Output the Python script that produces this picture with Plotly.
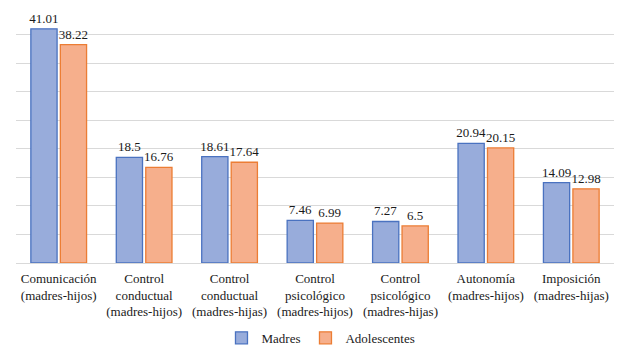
import plotly.graph_objects as go

categories = [
    "Comunicación<br>(madres-hijos)",
    "Control<br>conductual<br>(madres-hijos)",
    "Control<br>conductual<br>(madres-hijas)",
    "Control<br>psicológico<br>(madres-hijos)",
    "Control<br>psicológico<br>(madres-hijas)",
    "Autonomía<br>(madres-hijos)",
    "Imposición<br>(madres-hijas)",
]
madres = [41.01, 18.5, 18.61, 7.46, 7.27, 20.94, 14.09]
adolescentes = [38.22, 16.76, 17.64, 6.99, 6.5, 20.15, 12.98]
madres_labels = ["41.01", "18.5", "18.61", "7.46", "7.27", "20.94", "14.09"]
adol_labels = ["38.22", "16.76", "17.64", "6.99", "6.5", "20.15", "12.98"]

font_family = "Liberation Serif, Times New Roman, serif"
text_color = "#1a1a1a"
fs = 13

fig = go.Figure()
fig.add_trace(go.Bar(
    name="Madres", x=categories, y=madres, text=madres_labels,
    textposition="outside", cliponaxis=False, constraintext="none",
    textfont=dict(family=font_family, size=fs, color=text_color),
    marker=dict(color="#98ACDB", line=dict(color="#4A72C0", width=1.3)),
))
fig.add_trace(go.Bar(
    name="Adolescentes", x=categories, y=adolescentes, text=adol_labels,
    textposition="outside", cliponaxis=False, constraintext="none",
    textfont=dict(family=font_family, size=fs, color=text_color),
    marker=dict(color="#F6AF8C", line=dict(color="#EC7D34", width=1.3)),
))

fig.update_layout(
    template="none",
    width=640, height=352,
    margin=dict(l=16, r=26, t=6, b=89),
    paper_bgcolor="white", plot_bgcolor="white",
    barmode="group", bargap=0.31, bargroupgap=0.11,
    font=dict(family=font_family, size=fs, color=text_color),
    showlegend=True,
    legend=dict(orientation="h", x=0.51, xanchor="center",
                yref="container", y=0.04, yanchor="middle",
                font=dict(family=font_family, size=fs, color=text_color),
                itemwidth=30, tracegroupgap=0),
    xaxis=dict(showline=True, linecolor="#D9D9D9", linewidth=1, ticks="",
               automargin=False, showgrid=False, zeroline=False,
               ticklabelstandoff=3,
               tickfont=dict(family=font_family, size=fs, color=text_color)),
    yaxis=dict(range=[0, 45], dtick=5, showticklabels=False, showgrid=True, ticks="",
               automargin=False,
               gridcolor="#D9D9D9", gridwidth=1, zeroline=False, showline=False),
)

fig.write_html("out.html")
